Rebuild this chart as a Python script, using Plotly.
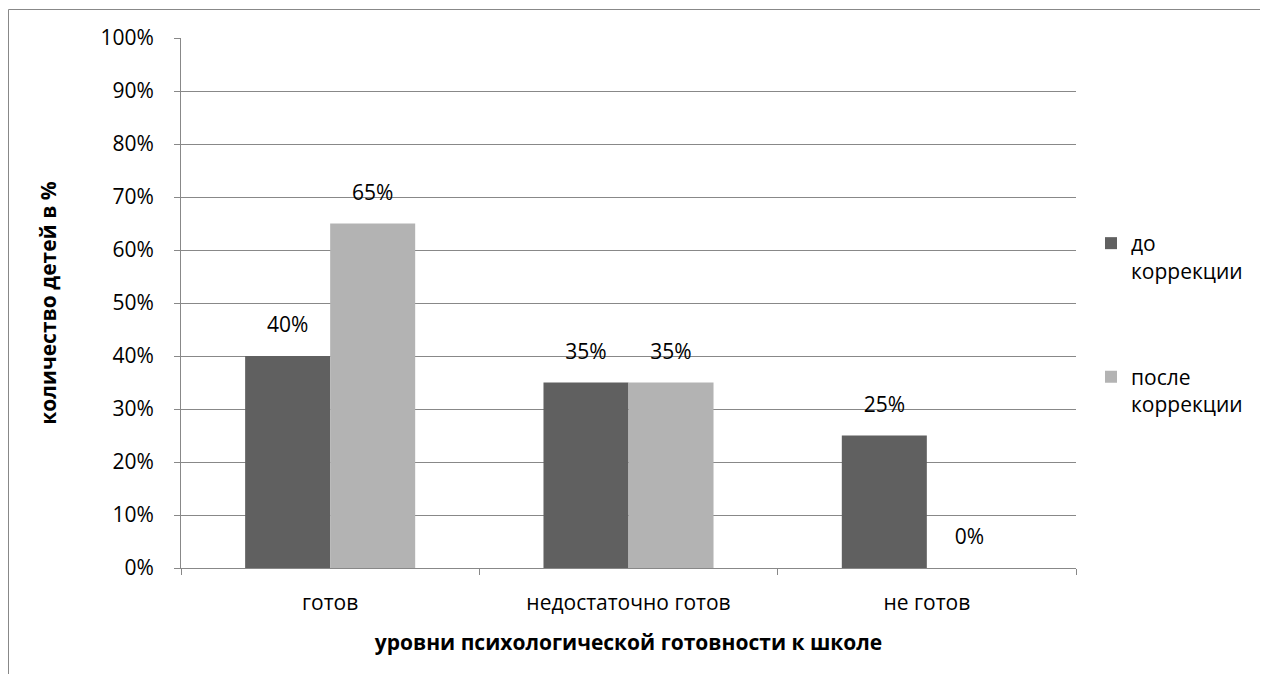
import plotly.graph_objects as go

categories = ["готов", "недостаточно готов", "не готов"]
before_vals = [40, 35, 25]
after_vals = [65, 35, 0]
series_names = ["до<br>коррекции", "после<br>коррекции"]
y_ticks = [0, 10, 20, 30, 40, 50, 60, 70, 80, 90, 100]
y_tick_labels = [f"{v}%" for v in y_ticks]

# page has an 8px body margin, so the figure is drawn 8px smaller and offset
OFF = 8
W, H = 1268 - OFF, 674 - OFF
PL, PR, PT, PB = 181, 1076, 38, 568          # plot area in page pixels
L, T = PL - OFF, PT - OFF
R, B = W - (PR - OFF), H - (PB - OFF)
PW, PH = PR - PL, PB - PT

FONT = "Open Sans"
FS = 21
GRID = "#888888"
DARK = "#606060"
LIGHT = "#b3b3b3"
GAP = 0.43

fig = go.Figure()
for name, vals, col, grp in [(series_names[0], before_vals, DARK, "a"),
                             (series_names[1], after_vals, LIGHT, "b")]:
    fig.add_trace(go.Bar(x=categories, y=vals, name=name, marker=dict(color=col, line=dict(width=0)),
                         legendgroup=grp, offsetgroup=grp))
for vals, grp in [(before_vals, "a"), (after_vals, "b")]:
    fig.add_trace(go.Scatter(x=categories, y=vals, mode="markers+text", text=[f"{v}%" for v in vals],
                             marker=dict(size=28, color="rgba(0,0,0,0)"),
                             textposition="top center", textfont=dict(family=FONT, size=FS, color="black"),
                             showlegend=False, offsetgroup=grp, cliponaxis=False, hoverinfo="skip"))

def px_x(px):
    return (px - PL) / PW

def px_y(py):
    return (PB - py) / PH

fig.update_layout(
    width=W, height=H,
    margin=dict(l=L, r=R, t=T, b=B, autoexpand=False),
    paper_bgcolor="white", plot_bgcolor="white",
    barmode="group", bargap=GAP, bargroupgap=0,
    scattermode="group", scattergap=GAP,
    font=dict(family=FONT, size=FS, color="black"),
    legend=dict(x=px_x(1091), y=px_y(223), xanchor="left", yanchor="top",
                font=dict(family=FONT, size=FS, color="black"), valign="top",
                tracegroupgap=76, bgcolor="rgba(0,0,0,0)", itemwidth=30),
    shapes=[dict(type="rect", xref="paper", yref="paper",
                 x0=px_x(8.5), x1=px_x(1268 + 20),
                 y0=px_y(674 + 20), y1=px_y(9.5),
                 line=dict(color=GRID, width=1), fillcolor="rgba(0,0,0,0)", layer="below")],
)
fig.update_xaxes(
    showline=True, linecolor=GRID, linewidth=1, ticks="outside", tickson="boundaries",
    ticklen=6, tickcolor=GRID, showgrid=False, ticklabelstandoff=16,
    tickfont=dict(family=FONT, size=FS, color="black"),
    title=dict(text="<b>уровни психологической готовности к школе</b>", standoff=20,
               font=dict(family=FONT, size=FS, color="black")),
    automargin=False,
)
fig.update_yaxes(
    range=[0, 100], tickvals=y_ticks, ticktext=y_tick_labels,
    showline=True, linecolor=GRID, linewidth=1, ticks="outside", ticklen=6, tickcolor=GRID,
    showgrid=True, gridcolor=GRID, gridwidth=1, zeroline=False, ticklabelstandoff=16,
    tickfont=dict(family=FONT, size=FS, color="black"),
    title=dict(text="<b>количество детей в %</b>", standoff=38,
               font=dict(family=FONT, size=FS, color="black")),
    automargin=False,
)

fig.write_html("out.html")
